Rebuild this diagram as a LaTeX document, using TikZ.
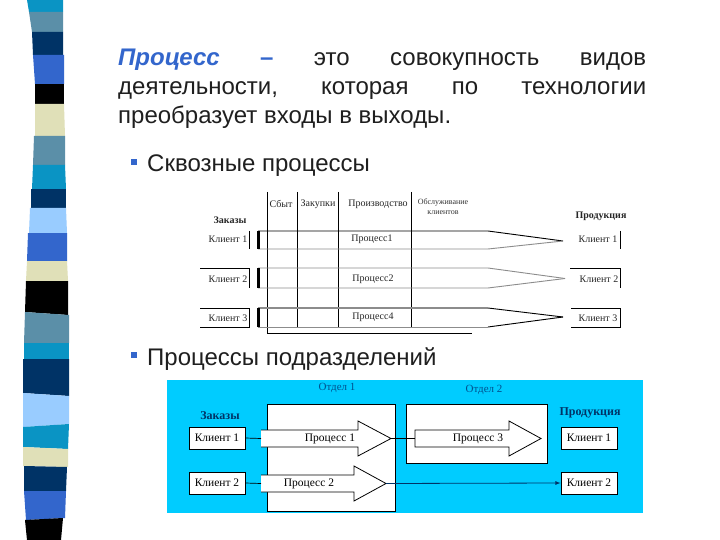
\documentclass[tikz,border=0pt]{standalone}
\usepackage{fontspec}
\setmainfont{Liberation Sans}
\newfontfamily\serifcyr{Liberation Serif}
\definecolor{stripecyan}{HTML}{0A94C4}
\definecolor{stripegrey}{HTML}{5B8FA8}
\definecolor{stripenavy}{HTML}{003366}
\definecolor{stripeblue}{HTML}{3366CC}
\definecolor{stripecream}{HTML}{E0E0B8}
\definecolor{stripelight}{HTML}{99CCFF}
\definecolor{panelcyan}{HTML}{00CCFF}
\definecolor{deptblue}{HTML}{004F8C}
\definecolor{greyline}{HTML}{8C8C8C}
\tikzset{
  body/.style={anchor=base west,inner sep=0pt,font=\fontsize{24}{28}\selectfont,text=black!88},
  small/.style={inner sep=0pt,font=\serifcyr\fontsize{10}{11}\selectfont,text=black!85},
  tiny/.style={inner sep=0pt,align=center,font=\serifcyr\fontsize{8}{10}\selectfont,text=black!80},
  head/.style={inner sep=0pt,font=\serifcyr\bfseries\fontsize{10}{11}\selectfont,text=black!85},
  low/.style={inner sep=0pt,font=\serifcyr\fontsize{11.5}{13}\selectfont,text=black},
  lowhead/.style={inner sep=0pt,font=\serifcyr\bfseries\fontsize{12}{13}\selectfont,text=stripenavy},
  dept/.style={inner sep=0pt,font=\serifcyr\fontsize{11}{13}\selectfont,text=deptblue},
  clientbox/.style={draw=black,fill=white,line width=0.9pt,minimum width=56pt,minimum height=22pt,inner sep=0pt,font=\serifcyr\fontsize{11.5}{13}\selectfont},
  tline/.style={line width=0.9pt,black},
  gline/.style={line width=0.9pt,greyline},
  gthick/.style={line width=1.6pt,greyline},
  bar/.style={line width=3pt,black},
  bull/.style={fill=stripeblue},
}
\begin{document}
\begin{tikzpicture}[x=1pt,y=-1pt]
\useasboundingbox (0,0) rectangle (720,540);
\fill[white] (0,0) rectangle (720,540);
% stripes
\fill[stripecyan] (27,0) -- (63,0) -- (63,12) -- (29,12) -- cycle;
\fill[stripegrey] (29,12) -- (63,12) -- (63,32) -- (32,32) -- cycle;
\fill[stripenavy] (32,32) -- (63,32) -- (63,55) -- (33,55) -- cycle;
\fill[stripeblue] (33,55) -- (64,55) -- (64,84) -- (35,84) -- cycle;
\fill[black] (35,84) -- (64,84) -- (64,104) -- (35,104) -- cycle;
\fill[stripecream] (35,104) -- (64,104) -- (65,136) -- (35,136) -- cycle;
\fill[stripegrey] (34,136) -- (65,136) -- (65,165) -- (33,165) -- cycle;
\fill[stripecyan] (33,165) -- (65,165) -- (66,189) -- (32,189) -- cycle;
\fill[stripenavy] (31,189) -- (66,189) -- (66,208) -- (31,208) -- cycle;
\fill[stripelight] (30,208) -- (66,208) -- (67,233) -- (29,233) -- cycle;
\fill[stripeblue] (28,233) -- (67,233) -- (67,261) -- (27,261) -- cycle;
\fill[stripecream] (27,261) -- (67,261) -- (68,281) -- (26,281) -- cycle;
\fill[black] (26,281) -- (68,281) -- (68,315) -- (25,312) -- cycle;
\fill[stripegrey] (25,312) -- (69,315) -- (69,343) -- (24,343) -- cycle;
\fill[stripecyan] (24,343) -- (69,343) -- (69,359) -- (24,359) -- cycle;
\fill[stripenavy] (23,359) -- (69,359) -- (69,396) -- (23,393) -- cycle;
\fill[stripelight] (23,393) -- (69,396) -- (69,424) -- (23,427) -- cycle;
\fill[stripecyan] (23,427) -- (69,424) -- (68,449) -- (23,447) -- cycle;
\fill[stripecream] (23,447) -- (68,449) -- (68,467) -- (23,466) -- cycle;
\fill[stripenavy] (24,466) -- (67,467) -- (66,491) -- (24,491) -- cycle;
\fill[stripeblue] (24,491) -- (66,491) -- (65,518) -- (26,520) -- cycle;
\fill[black] (25,520) -- (63,518) -- (61,540) -- (27,540) -- cycle;
% heading text
\node[body,text width=528pt] (l1) at (118,66) {\hbox to 528pt{\textcolor{stripeblue}{\bfseries\itshape Процесс}\hfill\textcolor{stripeblue}{\bfseries –}\hfill это\hfill совокупность\hfill видов}};
\node[body,text width=528pt] (l2) at (118,95) {\hbox to 528pt{деятельности,\hfill которая\hfill по\hfill технологии}};
\node[body] (l3) at (118,124) {преобразует входы в выходы.};
\fill[bull] (131,159) rectangle (137,165);
\node[body] (b1) at (147,172) {Сквозные процессы};
\fill[bull] (131,352) rectangle (137,358);
\node[body] (b2) at (147,365) {Процессы подразделений};
% upper diagram: grid
\draw[tline] (267,192) -- (267,333) -- (472,333);
\draw[tline] (297,192) -- (297,328);
\draw[tline] (338,192) -- (338,328);
\draw[tline] (411,192) -- (411,327);
\draw[tline] (258,231) -- (488,231) -- (563,241);
\draw[gline] (258,249) -- (488,249) -- (563,241);
\draw[gline] (258,268) -- (488,268) -- (565,278.5);
\draw[gline] (258,288) -- (488,288) -- (565,278.5);
\draw[gthick] (258,308) -- (488,308);
\draw[tline] (488,308) -- (563,317);
\draw[gline] (258,327) -- (488,327);
\draw[tline] (488,327) -- (563,317);
\draw[bar] (258,231) -- (258,249);
\draw[bar] (258,268) -- (258,288);
\draw[bar] (258,308) -- (258,327);
\draw[tline] (249,231) -- (249,249);
\draw[tline] (200,268) -- (249,268) -- (249,288);
\draw[tline] (200,308) -- (249,308) -- (249,327) -- (200,327);
\draw[tline] (620,231) -- (620,249);
\draw[tline] (570,268) -- (620,268) -- (620,288);
\draw[tline] (571,308) -- (620,308) -- (620,327) -- (571,327);
% upper labels
\node[head] (uz) at (230,220) {Заказы};
\node[small] (uk1) at (228,239) {Клиент 1};
\node[small] (uk2) at (228,279) {Клиент 2};
\node[small] (uk3) at (228,318) {Клиент 3};
\node[small] (h1) at (281,204) {Сбыт};
\node[small] (h2) at (318,204) {Закупки};
\node[small] (h3) at (378,204) {Производство};
\node[tiny] (h4) at (443,207) {Обслуживание\\клиентов};
\node[head] (up) at (601,216) {Продукция};
\node[small] (p1) at (372,239) {Процесс1};
\node[small] (p2) at (373,279) {Процесс2};
\node[small] (p3) at (373,317) {Процесс4};
\node[small] (rk1) at (598,239) {Клиент 1};
\node[small] (rk2) at (599,279) {Клиент 2};
\node[small] (rk3) at (598,318) {Клиент 3};
% lower diagram
\fill[panelcyan] (167,380) rectangle (643,513);
\node[dept] (d1) at (337,388) {Отдел 1};
\node[dept] (d2) at (484,390) {Отдел 2};
\node[lowhead] (lz) at (220,416) {Заказы};
\node[lowhead] (lp) at (590,413) {Продукция};
\draw[fill=white,line width=0.9pt] (267,404) rectangle (395,511);
\draw[fill=white,line width=0.9pt] (406,404) rectangle (547,463);
\node[clientbox] (c1) at (217,438) {Клиент 1};
\node[clientbox] (c2) at (217,483) {Клиент 2};
\node[clientbox] (r1) at (589,438) {Клиент 1};
\node[clientbox] (r2) at (589,483) {Клиент 2};
% block arrows
\fill[white] (261,430) -- (358,430) -- (358,421) -- (391,438.5) -- (358,456) -- (358,447) -- (261,447) -- cycle;
\draw[line width=0.8pt] (261,430) -- (358,430) -- (358,421) -- (391,438.5) coordinate (t1) -- (358,456) -- (358,447) -- (261,447);
\coordinate (s1) at (261,438.5);
\fill[white] (261,475) -- (354,475) -- (354,466) -- (386,483.5) -- (354,501) -- (354,492) -- (261,492) -- cycle;
\draw[line width=0.8pt] (261,475) -- (354,475) -- (354,466) -- (386,483.5) coordinate (t2) -- (354,501) -- (354,492) -- (261,492);
\coordinate (s2) at (261,483.5);
\draw[fill=white,line width=0.8pt] (415,430) -- (509,430) -- (509,421) -- (541,438.5) -- (509,456) -- (509,447) -- (415,447) -- cycle;
\coordinate (s3) at (415,438.5);
\node[low] (a1) at (330,439) {Процесс 1};
\node[low] (a2) at (309,484) {Процесс 2};
\node[low] (a3) at (478,439) {Процесс 3};
\draw[line width=0.7pt] (c1.east) -- (s1);
\draw[line width=0.7pt] (c2.east) -- (s2);
\draw[line width=0.6pt] (t1) -- (s3);
\draw[line width=0.8pt,stripenavy,-{latex}] (t2) -- (r2.west);
\end{tikzpicture}
\end{document}
